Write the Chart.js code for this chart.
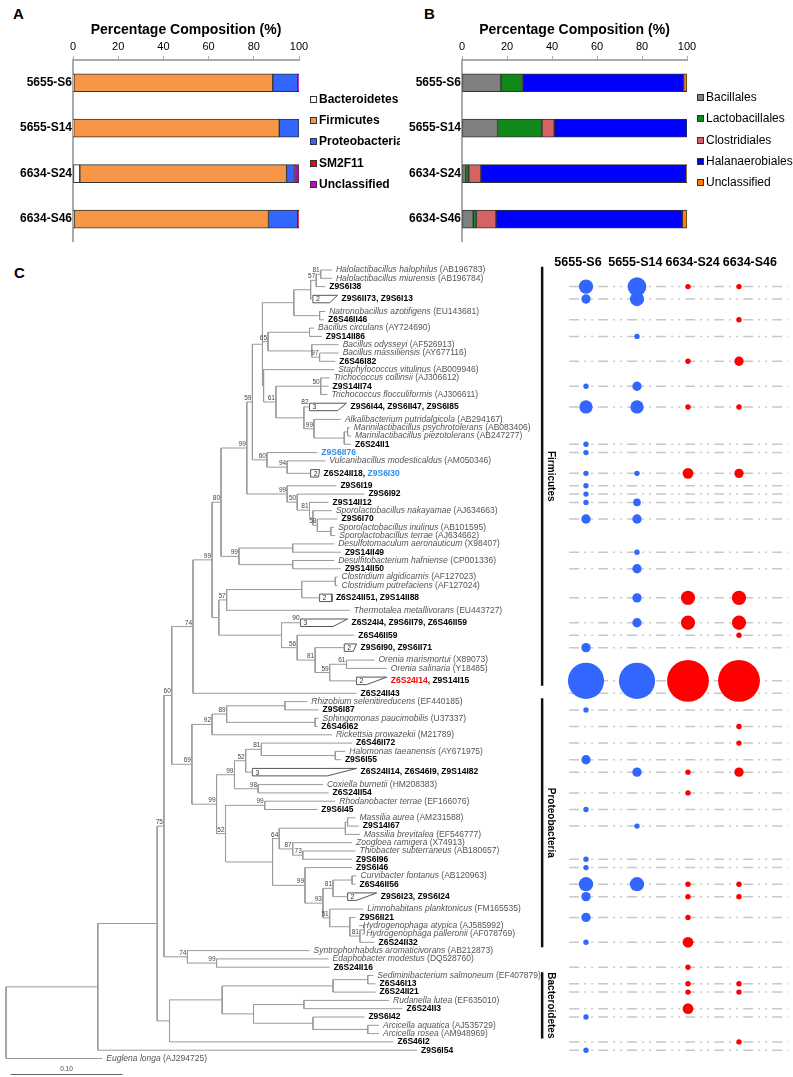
<!DOCTYPE html>
<html>
<head>
<meta charset="utf-8">
<script src="https://cdn.jsdelivr.net/npm/chart.js@4.4.1/dist/chart.umd.min.js"></script>
<style>
  body { margin: 0; background: #fff; }
  #page { position: relative; width: 793px; height: 1077px; background: #fff; font-family: Arial, "Liberation Sans", sans-serif; }
  canvas { position: absolute; }
  .tag { position: absolute; font: bold 15px Arial, "Liberation Sans", sans-serif; color: #000; }
</style>
</head>
<body>
<div id="page">
  <div class="tag" style="left:13px;top:5px">A</div>
  <div class="tag" style="left:424px;top:5px">B</div>
  <div class="tag" style="left:14px;top:264px">C</div>
  <canvas id="chartA" width="400" height="250" style="left:0;top:0"></canvas>
  <canvas id="chartB" width="393" height="250" style="left:400px;top:0"></canvas>
  <canvas id="chartC" width="793" height="837" style="left:0;top:240px"></canvas>
</div>
<script>
const SP = 'Arial, "Liberation Sans", sans-serif';

// ---- panels A and B: percentage composition per sample ----
const samples = ['5655-S6', '5655-S14', '6634-S24', '6634-S46'];
const xTicks = [0, 20, 40, 60, 80, 100];

const phyla = ['Bacteroidetes', 'Firmicutes', 'Proteobacteria', 'SM2F11', 'Unclassified'];
const phylaColors = ['#ffffff', '#f79646', '#3366ff', '#ff0000', '#cc00cc'];
const bacteroidetes = [0.4, 0.3, 3.0, 0.5];
const firmicutes = [88.0, 91.0, 91.5, 86.0];
const proteobacteria = [11.1, 8.7, 3.5, 12.9];
const sm2f11 = [0, 0, 0.5, 0.6];
const unclassifiedA = [0.5, 0, 1.5, 0];

const orders = ['Bacillales', 'Lactobacillales', 'Clostridiales', 'Halanaerobiales', 'Unclassified'];
const orderColors = ['#808080', '#10891a', '#d46464', '#0000ff', '#ff8000'];
const bacillales = [17.3, 15.8, 1.6, 5.0];
const lactobacillales = [9.6, 19.7, 1.4, 1.4];
const clostridiales = [0, 5.5, 5.4, 8.7];
const halanaerobiales = [71.6, 59.0, 91.3, 82.8];
const unclassifiedB = [1.5, 0, 0.3, 2.1];

// ---- panel C: tree leaves (top to bottom) ----
const leafNames = [
  'Halolactibacillus halophilus', 'Halolactibacillus miurensis', 'Z9S6I38', 'Z9S6II73, Z9S6I13',
  'Natronobacillus azotifigens', 'Z6S46II46', 'Bacillus circulans', 'Z9S14II86',
  'Bacillus odysseyi', 'Bacillus massiliensis', 'Z6S46I82', 'Staphylococcus vitulinus',
  'Trichococcus collinsii', 'Z9S14II74', 'Trichococcus flocculiformis', 'Z9S6I44, Z9S6II47, Z9S6I85',
  'Alkalibacterium putridalgicola', 'Marinilactibacillus psychrotolerans', 'Marinilactibacillus piezotolerans', 'Z6S24II1',
  'Z9S6II76', 'Vulcanibacillus modesticaldus', 'Z6S24II18, Z9S6I30', 'Z9S6I19',
  'Z9S6I92', 'Z9S14II12', 'Sporolactobacillus nakayamae', 'Z9S6I70',
  'Sporolactobacillus inulinus', 'Sporolactobacillus terrae', 'Desulfotomaculum aeronauticum', 'Z9S14II49',
  'Desulfitobacterium hafniense', 'Z9S14II50', 'Clostridium algidicarnis', 'Clostridium putrefaciens',
  'Z6S24II51, Z9S14II88', 'Thermotalea metallivorans', 'Z6S24I4, Z9S6II79, Z6S46II59', 'Z6S46II59',
  'Z9S6I90, Z9S6II71', 'Orenia marismortui', 'Orenia salinaria', 'Z6S24I14, Z9S14I15',
  'Z6S24II43', 'Rhizobium selenitireducens', 'Z9S6I87', 'Sphingomonas paucimobilis',
  'Z6S46I62', 'Rickettsia prowazekii', 'Z6S46II72', 'Halomonas taeanensis',
  'Z9S6I55', 'Z6S24II14, Z6S46I9, Z9S14I82', 'Coxiella burnetii', 'Z6S24II54',
  'Rhodanobacter terrae', 'Z9S6I45', 'Massilia aurea', 'Z9S14I67',
  'Massilia brevitalea', 'Zoogloea ramigera', 'Thiobacter subterraneus', 'Z9S6I96',
  'Z9S6I46', 'Curvibacter fontanus', 'Z6S46II56', 'Z9S6I23, Z9S6I24',
  'Limnohabitans planktonicus', 'Z9S6II21', 'Hydrogenophaga atypica', 'Hydrogenophaga palleronii',
  'Z6S24II32', 'Syntrophorhabdus aromaticivorans', 'Edaphobacter modestus', 'Z6S24II16',
  'Sediminibacterium salmoneum', 'Z6S46I13', 'Z6S24II21', 'Rudanella lutea',
  'Z6S24II3', 'Z9S6I42', 'Arcicella aquatica', 'Arcicella rosea',
  'Z6S46I2', 'Z9S6I54', 'Euglena longa'
];
const leafAcc = [
  'AB196783', 'AB196784', '', '', 'EU143681', '', 'AY724690', '',
  'AF526913', 'AY677116', '', 'AB009946', 'AJ306612', '', 'AJ306611', '',
  'AB294167', 'AB083406', 'AB247277', '', '', 'AM050346', '', '',
  '', '', 'AJ634663', '', 'AB101595', 'AJ634662', 'X98407', '',
  'CP001336', '', 'AF127023', 'AF127024', '', 'EU443727', '', '',
  '', 'X89073', 'Y18485', '', '', 'EF440185', '', 'U37337',
  '', 'M21789', '', 'AY671975', '', '', 'HM208383', '',
  'EF166076', '', 'AM231588', '', 'EF546777', 'X74913', 'AB180657', '',
  '', 'AB120963', '', '', 'FM165535', '', 'AJ585992', 'AF078769',
  '', 'AB212873', 'DQ528760', '', 'EF407879', '', '', 'EF635010',
  '', '', 'AJ535729', 'AM948969', '', '', 'AJ294725'
];
// distance from the root to each tip (substitutions per site)
const leafTip = [
  0.291, 0.291, 0.285, 0.296, 0.285, 0.284, 0.275, 0.282, 0.297, 0.297,
  0.294, 0.293, 0.289, 0.288, 0.287, 0.304, 0.299, 0.307, 0.308, 0.308,
  0.278, 0.285, 0.280, 0.295, 0.320, 0.288, 0.291, 0.296, 0.293, 0.294,
  0.293, 0.299, 0.293, 0.299, 0.296, 0.296, 0.291, 0.307, 0.305, 0.311,
  0.313, 0.329, 0.340, 0.340, 0.313, 0.269, 0.279, 0.279, 0.278, 0.291,
  0.309, 0.303, 0.299, 0.313, 0.283, 0.288, 0.294, 0.278, 0.312, 0.315,
  0.316, 0.309, 0.312, 0.309, 0.309, 0.313, 0.312, 0.331, 0.319, 0.312,
  0.315, 0.318, 0.329, 0.271, 0.288, 0.289, 0.328, 0.330, 0.330, 0.342,
  0.354, 0.320, 0.333, 0.333, 0.346, 0.367, 0.086
];
const blueClones = ['Z9S6II76', 'Z9S6I30'];
const redClones = ['Z6S24I14'];

// collapsed clades
const collapsedLeaf = [3, 15, 22, 36, 38, 40, 43, 53, 67];
const collapsedSize = [2, 3, 2, 2, 3, 2, 2, 3, 2];
const collapsedFrom = [0.274, 0.271, 0.272, 0.280, 0.263, 0.302, 0.313, 0.220, 0.305];
const collapsedMin = [0.289, 0.296, 0.279, 0.291, 0.292, 0.310, 0.322, 0.287, 0.313];
const collapsedBoot = [0, 82, 0, 0, 90, 0, 0, 0, 0];

// internal nodes: [depth, bootstrap, ...children]  (numbers are leaf indexes)
const n81a = [0.281, 81, 0, 1];
const n57 = [0.277, 57, n81a, 2];
const nC = [0.272, 0, n57, 3];
const nNat = [0.280, 0, 4, 5];
const nD = [0.257, 0, nC, nNat];
const nCirc = [0.271, 0, 6, 7];
const n97 = [0.280, 97, 9, 10];
const nOdy = [0.273, 0, 8, n97];
const n65 = [0.234, 65, nCirc, nOdy];
const nTrich = [0.281, 50, 12, 13, 14];
const nMar2 = [0.305, 0, 17, 18];
const nMar = [0.302, 0, nMar2, 19];
const n99L = [0.275, 99, 16, nMar];
const nLac = [0.266, 0, 15, n99L];
const n61 = [0.241, 61, nTrich, nLac];
const nStaph = [0.230, 0, 11, n61];
const nBL = [0.229, 0, nD, n65, nStaph];
const n94 = [0.251, 94, 21, 22];
const n60b = [0.233, 60, 20, n94];
const n59 = [0.220, 59, nBL, n60b];
const nInul = [0.290, 0, 28, 29];
const n58 = [0.278, 58, 27, nInul];
const nX = [0.274, 0, 26, n58];
const n81b = [0.271, 81, 25, nX];
const n50 = [0.260, 50, 24, n81b];
const n99b = [0.251, 99, 23, n50];
const n99a = [0.215, 99, n59, n99b];
const nDes1 = [0.256, 0, 30, 31];
const nDes2 = [0.256, 0, 32, 33];
const n99c = [0.208, 99, nDes1, nDes2];
const n80 = [0.192, 80, n99a, n99c];
const nClosPair = [0.294, 0, 34, 35];
const nClos = [0.264, 0, nClosPair, 36];
const n57b = [0.197, 57, nClos, 37];
const n61c = [0.304, 61, 41, 42];
const n59c = [0.289, 59, n61c, 43];
const n81c = [0.276, 81, 40, n59c];
const n56 = [0.260, 56, 39, n81c];
const nCl2 = [0.246, 0, 38, n56];
const nLow = [0.190, 0, n57b, nCl2];
const n99d = [0.184, 99, n80, nLow];
const n74 = [0.167, 74, n99d, 44];

const nRh = [0.249, 0, 45, 46];
const nSph = [0.276, 0, 47, 48];
const n89 = [0.197, 89, nRh, nSph];
const n92 = [0.184, 92, n89, 49];
const nHal = [0.294, 0, 51, 52];
const n81d = [0.228, 81, 50, nHal];
const n52a = [0.214, 52, n81d, 53];
const n98 = [0.225, 98, 54, 55];
const n99q = [0.204, 99, n52a, n98];
const n99r = [0.231, 99, 56, 57];
const nMA = [0.305, 0, 58, 59];
const nMass = [0.303, 0, nMA, 60];
const n73 = [0.265, 73, 62, 63];
const n87 = [0.256, 87, 61, n73];
const n64 = [0.244, 64, nMass, n87];
const nCurv = [0.309, 0, 65, 66];
const n81e = [0.292, 81, nCurv, 67];
const nHA = [0.320, 0, 70, 71];
const n81f = [0.316, 81, nHA, 72];
const nHyd = [0.307, 0, 69, n81f];
const n51 = [0.289, 51, 68, nHyd];
const n93 = [0.283, 93, n81e, n51];
const n99s = [0.267, 99, 64, n93];
const nProt2 = [0.238, 0, n64, n99s];
const n52b = [0.196, 52, n99r, nProt2];
const n99p = [0.188, 99, n99q, n52b];
const n69 = [0.166, 69, n92, n99p];
const n60 = [0.148, 60, n74, n69];
const n99t = [0.188, 99, 74, 75];
const n74b = [0.162, 74, 73, n99t];
const n75 = [0.141, 75, n60, n74b];

const nSed2 = [0.323, 0, 76, 77];
const nSed = [0.292, 0, nSed2, 78];
const nRud2 = [0.266, 0, 79, 80];
const nArc2 = [0.323, 0, 82, 83];
const nArc = [0.274, 0, 81, nArc2];
const nRud = [0.221, 0, nRud2, nArc];
const nB1 = [0.193, 0, nSed, nRud];
const nBact = [0.146, 0, nB1, 84];
const nIn2 = [0.135, 0, n75, nBact];
const nIng = [0.082, 0, nIn2, 85];
const tree = [0, 0, nIng, 86];

const scaleBarLength = 0.10;

const phylumNames = ['Firmicutes', 'Proteobacteria', 'Bacteroidetes'];
const phylumFirst = [0, 45, 76];
const phylumLast = [43, 72, 83];

// OTU rows with clone counts per sample
const otuLeaf = [2, 3, 5, 7, 10, 13, 15, 19, 20, 22, 23, 24, 25, 27, 31, 33, 36, 38, 39, 40, 43, 44,
  46, 48, 50, 52, 53, 55, 57, 59, 63, 64, 66, 67, 69, 72, 75, 77, 78, 80, 81, 84, 85];
const valS6 = [7, 3, 0, 0, 0, 1, 6, 1, 1, 1, 1, 1, 1, 3, 0, 0, 0, 0, 0, 3, 45, 0,
  1, 0, 0, 3, 0, 0, 1, 0, 1, 1, 7, 3, 3, 1, 0, 0, 0, 0, 1, 0, 1];
const valS14 = [12, 7, 0, 1, 0, 3, 6, 0, 0, 1, 0, 0, 2, 3, 1, 3, 3, 3, 0, 0, 45, 0,
  0, 0, 0, 0, 3, 0, 0, 1, 0, 0, 7, 0, 0, 0, 0, 0, 0, 0, 0, 0, 0];
const valS24 = [1, 0, 0, 0, 1, 0, 1, 0, 0, 4, 0, 0, 0, 0, 0, 0, 7, 7, 0, 0, 60, 1,
  0, 0, 0, 0, 1, 1, 0, 0, 0, 0, 1, 1, 1, 4, 1, 1, 1, 4, 0, 0, 0];
const valS46 = [1, 0, 1, 0, 3, 0, 1, 0, 0, 3, 0, 0, 0, 0, 0, 0, 7, 7, 1, 0, 60, 0,
  0, 1, 1, 0, 3, 0, 0, 0, 0, 0, 1, 1, 0, 0, 0, 1, 1, 0, 0, 1, 0];
const sampleColors = ['#3366ff', '#3366ff', '#ff0000', '#ff0000'];

// ---------- legend drawn beside the bars ----------
const sideLegend = {
  id: 'sideLegend',
  afterDraw(chart, args, opts) {
    const ctx = chart.ctx;
    ctx.save();
    ctx.font = (opts.bold ? 'bold ' : '') + '12px ' + SP;
    ctx.textBaseline = 'middle';
    chart.data.datasets.forEach((ds, i) => {
      const y = Math.round(opts.top + i * opts.step);
      ctx.fillStyle = ds.backgroundColor;
      ctx.fillRect(opts.left, y - 4, 7, 7);
      ctx.strokeStyle = '#333';
      ctx.lineWidth = 1;
      ctx.strokeRect(opts.left + 0.5, y - 3.5, 6, 6);
      ctx.fillStyle = '#000';
      ctx.fillText(ds.label, opts.left + 9, y);
    });
    ctx.restore();
  }
};

function stackedBars(canvasId, names, colors, values, axisWidth, rightPad, legend) {
  return new Chart(document.getElementById(canvasId), {
    type: 'bar',
    data: {
      labels: samples,
      datasets: names.map((n, i) => ({
        label: n,
        data: values[i],
        backgroundColor: colors[i],
        borderColor: '#333',
        borderWidth: 1,
        borderSkipped: false,
        barThickness: 18
      }))
    },
    options: {
      indexAxis: 'y',
      responsive: false,
      animation: false,
      events: [],
      layout: { autoPadding: false, padding: { left: 0, right: rightPad, top: 0, bottom: 6 } },
      scales: {
        x: {
          stacked: true, position: 'top', min: 0, max: 100,
          afterBuildTicks(s) { s.ticks = xTicks.map(v => ({ value: v })); },
          afterFit(s) { s.height = 60; },
          ticks: { color: '#000', font: { size: 11, family: SP }, padding: 2 },
          grid: { drawOnChartArea: false, tickLength: 4, color: '#aaa' },
          border: { color: '#aaa', width: 2 },
          title: { display: true, text: 'Percentage Composition (%)', color: '#000',
                   font: { size: 14, weight: 'bold', family: SP }, padding: { top: 22, bottom: 0 } }
        },
        y: {
          stacked: true,
          afterFit(s) { s.width = axisWidth; },
          ticks: { color: '#000', font: { size: 12, weight: 'bold', family: SP }, padding: 1 },
          grid: { display: false, drawTicks: false },
          border: { color: '#aaa', width: 2 }
        }
      },
      plugins: { legend: { display: false }, tooltip: { enabled: false }, sideLegend: legend }
    },
    plugins: [sideLegend]
  });
}

stackedBars('chartA', phyla, phylaColors,
  [bacteroidetes, firmicutes, proteobacteria, sm2f11, unclassifiedA],
  73, 101, { left: 310, top: 100, step: 21.2, bold: true });
stackedBars('chartB', orders, orderColors,
  [bacillales, lactobacillales, clostridiales, halanaerobiales, unclassifiedB],
  62, 106, { left: 297, top: 98, step: 21.3, bold: false });

// ---------- panel C: tree layout ----------
const isCollapsed = i => collapsedLeaf.indexOf(i) >= 0;
const leafRow = [];
leafNames.forEach((n, i) => {
  if (i === 0) { leafRow.push(0); return; }
  let r = leafRow[i - 1] + 1;
  if (isCollapsed(i - 1)) r += 0.5;
  if (isCollapsed(i)) r += 0.5;
  leafRow.push(r);
});

const branchPts = [];
const bootLabels = [];
function seg(x1, y1, x2, y2) {
  branchPts.push({ x: x1, y: y1 }, { x: x2, y: y2 }, { x: x2, y: null });
}
function walk(node) {
  const d = node[0];
  const ys = node.slice(2).map(k => {
    if (typeof k === 'number') {
      const ci = collapsedLeaf.indexOf(k);
      seg(d, leafRow[k], ci >= 0 ? collapsedFrom[ci] : leafTip[k], leafRow[k]);
      return leafRow[k];
    }
    const yk = walk(k);
    seg(d, yk, k[0], yk);
    return yk;
  });
  seg(d, ys[0], d, ys[ys.length - 1]);
  const y = (ys[0] + ys[ys.length - 1]) / 2;
  if (node[1]) bootLabels.push({ d: d, y: y, v: node[1] });
  return y;
}
walk(tree);

const boxPts = [];
collapsedLeaf.forEach((leaf, ci) => {
  const r = leafRow[leaf];
  boxPts.push({ x: collapsedFrom[ci], y: r - 0.45 }, { x: leafTip[leaf], y: r - 0.45 },
    { x: collapsedMin[ci], y: r + 0.45 }, { x: collapsedFrom[ci], y: r + 0.45 },
    { x: collapsedFrom[ci], y: r - 0.45 }, { x: collapsedFrom[ci], y: null });
});

const dashPts = [];
otuLeaf.forEach(leaf => {
  dashPts.push({ x: -0.33, y: leafRow[leaf] }, { x: 3.96, y: leafRow[leaf] }, { x: 3.96, y: null });
});

const treeText = {
  id: 'treeText',
  afterDatasetsDraw(chart) {
    const { ctx } = chart;
    const { x, x2, y } = chart.scales;
    ctx.save();
    ctx.textBaseline = 'middle';
    ctx.textAlign = 'left';
    // leaf labels
    leafNames.forEach((name, i) => {
      let px = x.getPixelForValue(leafTip[i]) + 4;
      const py = y.getPixelForValue(leafRow[i]);
      if (leafAcc[i]) {
        ctx.fillStyle = '#555';
        ctx.font = 'italic 8.5px ' + SP;
        ctx.fillText(name, px, py);
        px += ctx.measureText(name + ' ').width;
        ctx.font = '8.5px ' + SP;
        ctx.fillText('(' + leafAcc[i] + ')', px, py);
      } else {
        ctx.font = 'bold 8.5px ' + SP;
        const parts = name.split(', ');
        parts.forEach((part, k) => {
          ctx.fillStyle = blueClones.includes(part) ? '#2b8ee8' : redClones.includes(part) ? '#ff0000' : '#000';
          ctx.fillText(part, px, py);
          px += ctx.measureText(part).width;
          if (k < parts.length - 1) {
            ctx.fillStyle = '#000';
            ctx.fillText(', ', px, py);
            px += ctx.measureText(', ').width;
          }
        });
      }
    });
    // collapsed clade sizes and their support
    ctx.font = '7px ' + SP;
    ctx.fillStyle = '#333';
    collapsedLeaf.forEach((leaf, ci) => {
      const px = x.getPixelForValue(collapsedFrom[ci]);
      const py = y.getPixelForValue(leafRow[leaf]);
      ctx.textAlign = 'left';
      ctx.fillText(String(collapsedSize[ci]), px + 3, py + 0.5);
      if (collapsedBoot[ci]) {
        ctx.textAlign = 'right';
        ctx.textBaseline = 'bottom';
        ctx.font = '6.5px ' + SP;
        ctx.fillText(String(collapsedBoot[ci]), px - 1, py - 1);
        ctx.font = '7px ' + SP;
        ctx.textBaseline = 'middle';
      }
    });
    // bootstrap values
    ctx.font = '6.5px ' + SP;
    ctx.fillStyle = '#444';
    ctx.textAlign = 'right';
    ctx.textBaseline = 'bottom';
    bootLabels.forEach(b => {
      ctx.fillText(String(b.v), x.getPixelForValue(b.d) - 1, y.getPixelForValue(b.y) - 0.5);
    });
    // scale bar
    const lastRow = leafRow[leafRow.length - 1];
    const sy = Math.round(y.getPixelForValue(lastRow + 1.85)) + 0.5;
    const sx0 = x.getPixelForValue(0.004), sx1 = x.getPixelForValue(0.004 + scaleBarLength);
    ctx.strokeStyle = '#666';
    ctx.lineWidth = 1;
    ctx.beginPath(); ctx.moveTo(sx0, sy); ctx.lineTo(sx1, sy); ctx.stroke();
    ctx.textAlign = 'center';
    ctx.fillStyle = '#444';
    ctx.fillText(scaleBarLength.toFixed(2), (sx0 + sx1) / 2, sy - 2);
    // sample headers
    ctx.font = 'bold 12.5px ' + SP;
    ctx.fillStyle = '#000';
    ctx.textBaseline = 'middle';
    samples.forEach((s, i) => ctx.fillText(s, 578 + i * 57.3, 23));
    // phylum brackets
    const bx = x2.getPixelForValue(-0.86);
    phylumNames.forEach((p, i) => {
      const y0 = y.getPixelForValue(leafRow[phylumFirst[i]] - 0.4);
      const y1 = y.getPixelForValue(leafRow[phylumLast[i]] + 0.6);
      ctx.strokeStyle = '#111';
      ctx.lineWidth = 2.5;
      ctx.beginPath(); ctx.moveTo(bx, y0); ctx.lineTo(bx, y1); ctx.stroke();
      ctx.save();
      ctx.translate(bx + 9, (y0 + y1) / 2);
      ctx.rotate(Math.PI / 2);
      ctx.font = 'bold 10px ' + SP;
      ctx.textAlign = 'center';
      ctx.fillText(p, 0, 0);
      ctx.restore();
    });
    ctx.restore();
  }
};

new Chart(document.getElementById('chartC'), {
  type: 'scatter',
  data: {
    datasets: [
      { type: 'line', xAxisID: 'x', yAxisID: 'y', data: branchPts, borderColor: '#9a9a9a',
        borderWidth: 1, pointRadius: 0, fill: false, tension: 0, spanGaps: false, order: 2 },
      { type: 'line', xAxisID: 'x', yAxisID: 'y', data: boxPts, borderColor: '#555',
        borderWidth: 1, pointRadius: 0, fill: false, tension: 0, spanGaps: false, order: 2 },
      { type: 'line', xAxisID: 'x2', yAxisID: 'y', data: dashPts, borderColor: '#c8c8c8',
        borderWidth: 1.5, borderDash: [10, 5, 2, 5, 2, 5], pointRadius: 0, fill: false,
        spanGaps: false, order: 3 }
    ].concat([valS6, valS14, valS24, valS46].map((vals, s) => ({
      type: 'bubble', xAxisID: 'x2', yAxisID: 'y', order: 0,
      data: otuLeaf.map((leaf, k) => ({ x: s, y: leafRow[leaf], r: vals[k] ? 2.7 * Math.sqrt(vals[k]) : 0 }))
        .filter(p => p.r > 0),
      backgroundColor: sampleColors[s], borderWidth: 0
    })))
  },
  options: {
    responsive: false,
    animation: false,
    events: [],
    layout: { autoPadding: false, padding: 0 },
    scales: {
      x: { type: 'linear', display: false, min: -6 / 1120, max: 787 / 1120 },
      x2: { type: 'linear', display: false, min: -586 / 51, max: 207 / 51 },
      y: { type: 'linear', display: false, reverse: true, min: -30 / 8.3, max: 807 / 8.3 }
    },
    plugins: { legend: { display: false }, tooltip: { enabled: false } }
  },
  plugins: [treeText]
});
</script>
</body>
</html>
